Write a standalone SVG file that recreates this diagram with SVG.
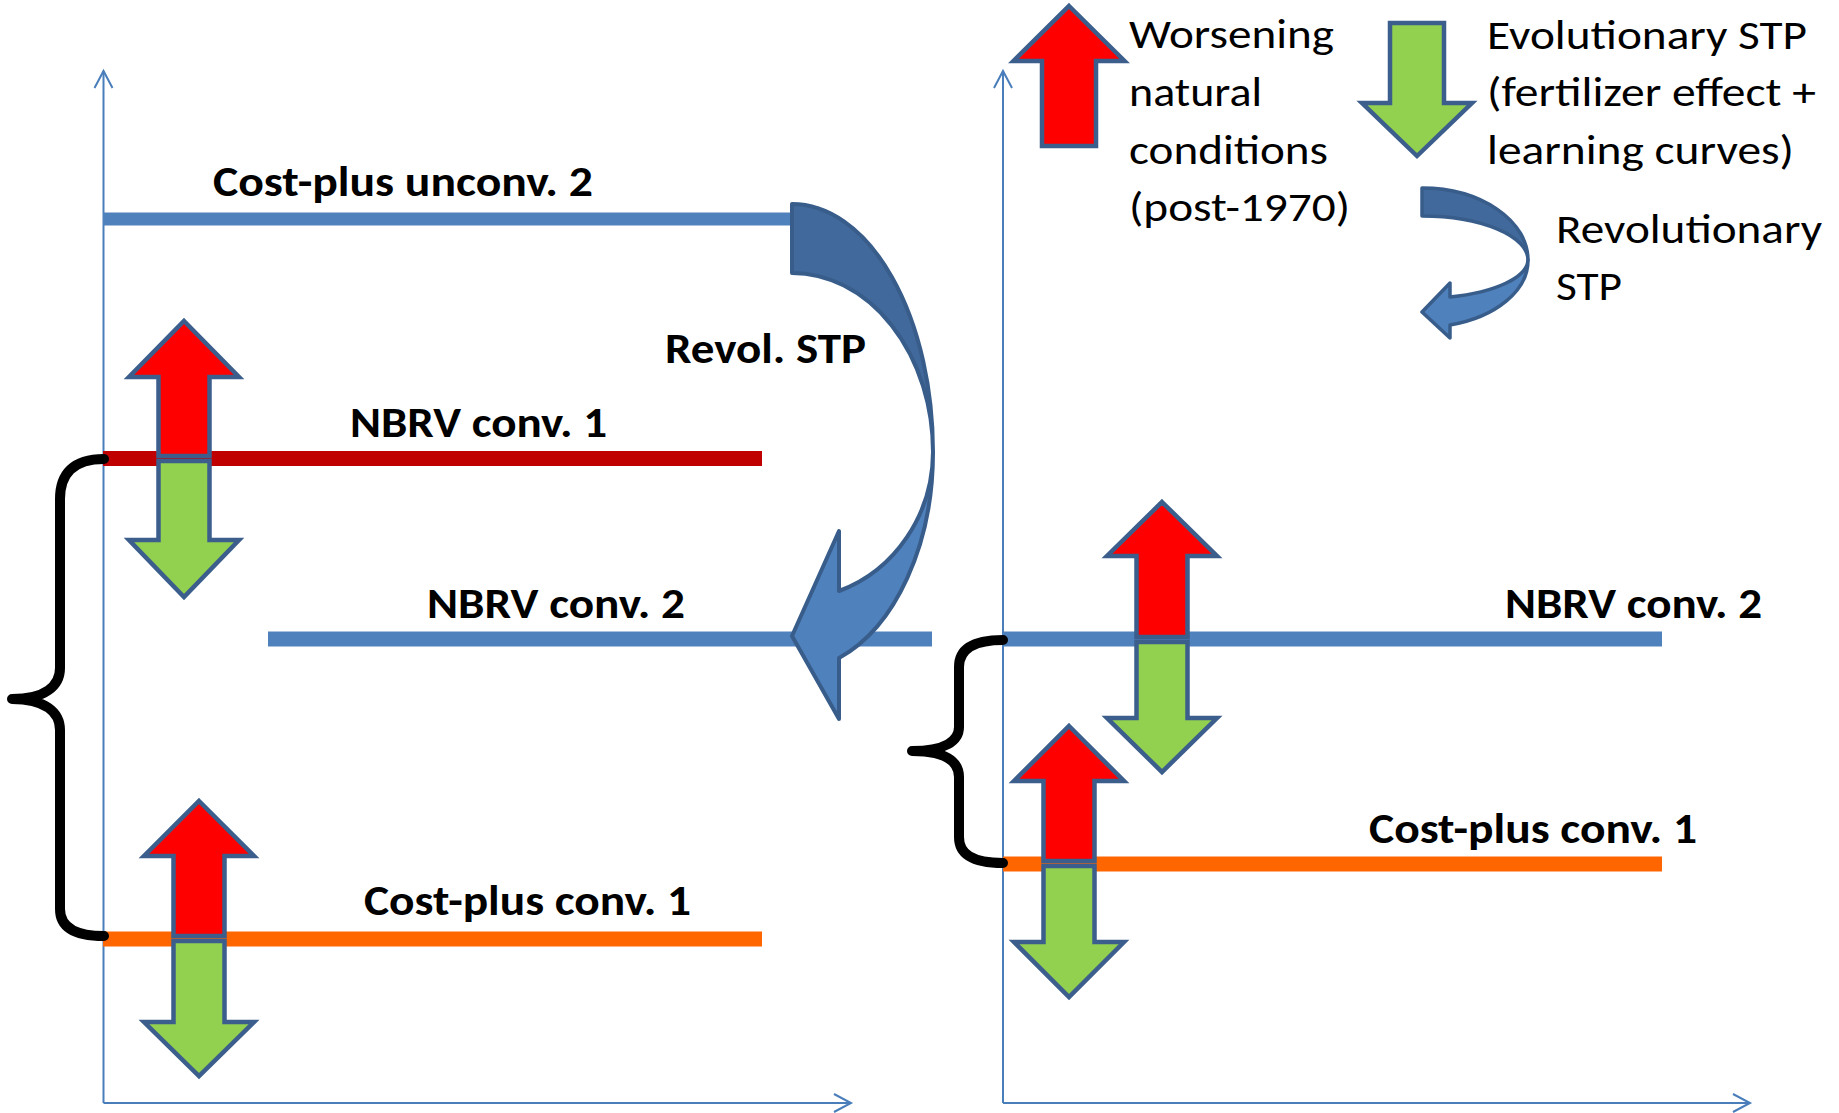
<svg xmlns="http://www.w3.org/2000/svg" width="1839" height="1113" viewBox="0 0 1839 1113">
<style>
.bg{fill:#FFFFFF}
.axis{stroke:#4A7EBB;stroke-width:2;fill:none}
.lvl{fill:none;stroke-width:15}
.blue{stroke:#4F81BD}
.red{stroke:#C00000}
.orange{stroke:#FF6600}
.up{fill:#FF0000;stroke:#3B5E8C;stroke-width:4.5;stroke-linejoin:miter}
.down{fill:#92D050;stroke:#3B5E8C;stroke-width:4.5;stroke-linejoin:miter}
.brace{fill:none;stroke:#000000;stroke-width:10;stroke-linecap:round;stroke-linejoin:round}
.dark{fill:#41699B;stroke:#385D8A;stroke-width:4;stroke-linejoin:round}
.light{fill:#4F81BD;stroke:#385D8A;stroke-width:4;stroke-linejoin:round}
.lbl{font-family:Carlito,Lato,"Liberation Sans",sans-serif;font-weight:bold;font-size:42px;fill:#000000}
.leg{font-family:Carlito,Lato,"Liberation Sans",sans-serif;font-weight:normal;font-size:42px;fill:#000000}
</style>
<defs>
<marker id="ah" markerUnits="userSpaceOnUse" markerWidth="22" markerHeight="22" viewBox="0 0 22 22" refX="19" refY="11" orient="auto">
<path d="M2,2 L19,11 L2,20" fill="none" stroke="#4A7EBB" stroke-width="2"/>
</marker>
</defs>
<rect class="bg" x="0" y="0" width="1839" height="1113"/>

<g id="connectors">
<g id="axes">
<path class="axis" d="M103.5,1103 L103.5,71" marker-end="url(#ah)"/>
<path class="axis" d="M103.5,1103 L851,1103" marker-end="url(#ah)"/>
<path class="axis" d="M1003,1103 L1003,71" marker-end="url(#ah)"/>
<path class="axis" d="M1003,1103 L1750,1103" marker-end="url(#ah)"/>
</g>
<g id="levels">
<line class="lvl blue" x1="103" y1="219" x2="792" y2="219" style="stroke-width:13"/>
<line class="lvl red" x1="103" y1="458.5" x2="762" y2="458.5"/>
<line class="lvl blue" x1="268" y1="639" x2="932" y2="639"/>
<line class="lvl orange" x1="103" y1="939" x2="762" y2="939"/>
<line class="lvl blue" x1="1003" y1="639" x2="1662" y2="639"/>
<line class="lvl orange" x1="1003" y1="864" x2="1662" y2="864"/>
</g>
<g id="braces">
<path class="brace" d="M104,459 C73,459 60,474 60,499 L60,668 C60,686 45,699 12,699 C45,699 60,712 60,730 L60,909 C60,926 73,936 104,936"/>
<path class="brace" d="M1003,640 C972,640 959,650 959,667 L959,727 C959,741 945,751 912,751 C945,751 959,761 959,777 L959,837 C959,854 972,863 1003,863"/>
</g>
</g>

<g id="arrow-left-top">
<path class="up" d="M184,321 L239,377 L209.5,377 L209.5,456 L158.5,456 L158.5,377 L129,377 Z"/>
<path class="down" d="M158.5,461 L209.5,461 L209.5,540 L239,540 L184,597 L129,540 L158.5,540 Z"/>
</g>
<g id="arrow-left-bottom">
<path class="up" d="M199,801 L254,856 L224.5,856 L224.5,936 L173.5,936 L173.5,856 L144,856 Z"/>
<path class="down" d="M173.5,941 L224.5,941 L224.5,1022 L254,1022 L199,1076 L144,1022 L173.5,1022 Z"/>
</g>
<g id="arrow-right-top">
<path class="up" d="M1162,502 L1217,556 L1187.5,556 L1187.5,637 L1136.5,637 L1136.5,556 L1107,556 Z"/>
<path class="down" d="M1136.5,642 L1187.5,642 L1187.5,718 L1217,718 L1162,772 L1107,718 L1136.5,718 Z"/>
</g>
<g id="arrow-right-bottom">
<path class="up" d="M1069,726 L1124,781 L1094.5,781 L1094.5,861 L1043.5,861 L1043.5,781 L1014,781 Z"/>
<path class="down" d="M1043.5,866 L1094.5,866 L1094.5,942 L1124,942 L1069,997 L1014,942 L1043.5,942 Z"/>
</g>

<g id="revol-arrow">
<path class="dark" d="M792,204 A141,248 0 0 1 933,452 A141,179 0 0 0 792,273 Z"/>
<path class="light" d="M933,452 A141,218 0 0 1 839,658 L839,719 L792,636 L839,531 L839,591 A141,148 0 0 0 933,452 Z"/>
</g>

<g id="legend-worsening">
<path class="up" d="M1069,6 L1124.5,61 L1096,61 L1096,146 L1042,146 L1042,61 L1013.5,61 Z"/>
<text class="leg" x="1129" y="48" textLength="205" lengthAdjust="spacingAndGlyphs">Worsening</text>
<text class="leg" x="1129" y="106" textLength="133" lengthAdjust="spacingAndGlyphs">natural</text>
<text class="leg" x="1129" y="164" textLength="199" lengthAdjust="spacingAndGlyphs">conditions</text>
<text class="leg" x="1129" y="221" textLength="221" lengthAdjust="spacingAndGlyphs">(post-1970)</text>
</g>
<g id="legend-evolutionary">
<path class="down" d="M1390,23 L1444,23 L1444,103 L1472,103 L1417,156 L1362,103 L1390,103 Z"/>
<text class="leg" x="1487" y="49" textLength="320" lengthAdjust="spacingAndGlyphs">Evolutionary STP</text>
<text class="leg" x="1487" y="106" textLength="329" lengthAdjust="spacingAndGlyphs">(fertilizer effect +</text>
<text class="leg" x="1487" y="164" textLength="307" lengthAdjust="spacingAndGlyphs">learning curves)</text>
</g>
<g id="legend-revolutionary">
<path class="dark" style="stroke-width:3.5" d="M1422,188 A106,72 0 0 1 1528,260 A106,44 0 0 0 1422,216 Z"/>
<path class="light" style="stroke-width:3.5" d="M1528,260 A106,67 0 0 1 1450,325 L1450,338 L1422,312 L1450,283 L1450,297 A106,39 0 0 0 1528,260 Z"/>
<text class="leg" x="1556" y="243" textLength="266" lengthAdjust="spacingAndGlyphs">Revolutionary</text>
<text class="leg" x="1556" y="300" textLength="66" lengthAdjust="spacingAndGlyphs">STP</text>
</g>

<g id="labels">
<text class="lbl" x="213" y="196" textLength="380" lengthAdjust="spacingAndGlyphs">Cost-plus unconv. 2</text>
<text class="lbl" x="665" y="363" textLength="201" lengthAdjust="spacingAndGlyphs">Revol. STP</text>
<text class="lbl" x="350" y="437" textLength="257" lengthAdjust="spacingAndGlyphs">NBRV conv. 1</text>
<text class="lbl" x="427" y="618" textLength="258" lengthAdjust="spacingAndGlyphs">NBRV conv. 2</text>
<text class="lbl" x="364" y="915" textLength="327" lengthAdjust="spacingAndGlyphs">Cost-plus conv. 1</text>
<text class="lbl" x="1505" y="618" textLength="257" lengthAdjust="spacingAndGlyphs">NBRV conv. 2</text>
<text class="lbl" x="1369" y="843" textLength="328" lengthAdjust="spacingAndGlyphs">Cost-plus conv. 1</text>
</g>
</svg>
